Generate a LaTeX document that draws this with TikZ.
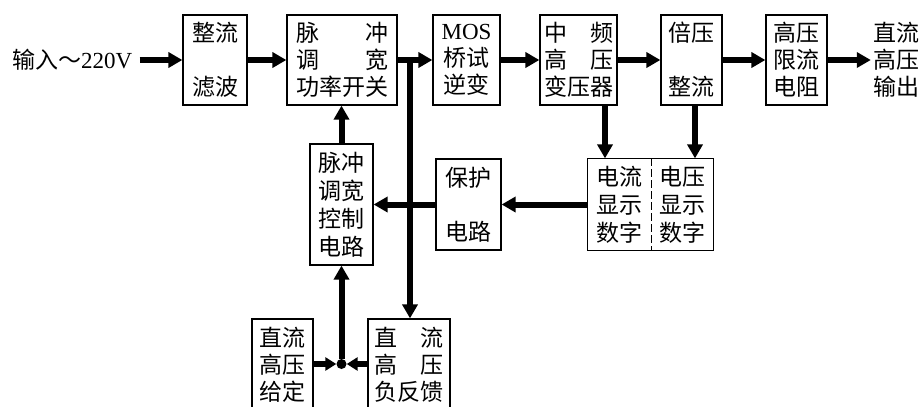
\documentclass[tikz,border=0pt]{standalone}
\usepackage{fontspec}
\setmainfont{Liberation Serif}
\newfontfamily\cjk{Noto Sans CJK SC}
\usetikzlibrary{arrows.meta}
\begin{document}
\begin{tikzpicture}[x=1pt,y=-1pt,
  cjkf/.style={font=\cjk\fontsize{23}{27}\selectfont},
  cjkg/.style={font=\cjk\fontsize{23}{28}\selectfont},
  box/.style={draw,line width=1.2pt,inner sep=0pt,align=center,cjkf},
  arr/.style={line width=6pt,-{Triangle[length=14pt,width=15pt]}},
  sarr/.style={line width=5.5pt,-{Triangle[length=11pt,width=13pt]}}]
\clip (0,0) rectangle (922,407);
% top row
\node[cjkf,inner sep=0pt,anchor=west] (in) at (12,60) {输入～{\rmfamily 220V}};
\node[box,minimum width=64pt,minimum height=90pt,text width=48pt] (zl) at (215,60) {整流\\[27pt]滤波};
\node[box,minimum width=110pt,minimum height=90pt,text width=92pt] (mk) at (342,60)
  {\makebox[\linewidth]{脉\hfill 冲}\\\makebox[\linewidth]{调\hfill 宽}\\功率开关};
\node[box,minimum width=67pt,minimum height=90pt,text width=55pt] (mos) at (466.5,60) {{\rmfamily MOS}\\桥试\\逆变};
\node[box,minimum width=77pt,minimum height=90pt,text width=69pt] (zp) at (578.5,60)
  {\makebox[\linewidth]{中\hfill 频}\\\makebox[\linewidth]{高\hfill 压}\\变压器};
\node[box,minimum width=61pt,minimum height=90pt,text width=48pt] (bz) at (691.5,60) {倍压\\[27pt]整流};
\node[box,minimum width=61pt,minimum height=90pt,text width=48pt] (gx) at (796.5,60) {高压\\限流\\电阻};
\node[cjkf,inner sep=0pt,align=center] (out) at (896,60) {直流\\高压\\输出};
% middle row
\node[box,cjkg,minimum width=63pt,minimum height=121pt,text width=48pt] (kz) at (341.5,204.5) {脉冲\\调宽\\控制\\电路};
\node[box,minimum width=65pt,minimum height=91pt,text width=48pt] (bh) at (468.5,204.5) {保护\\[27pt]电路};
\node[box,cjkg,draw=none,minimum width=63pt,minimum height=91pt,text width=48pt] (xsl) at (619.5,204.5) {电流\\显示\\数字};
\node[box,cjkg,draw=none,minimum width=62pt,minimum height=91pt,text width=48pt] (xsr) at (682,204.5) {电压\\显示\\数字};
\draw[line width=1.2pt] (xsl.north west) rectangle (xsr.south east);
\draw[line width=1pt,dash pattern=on 8pt off 3pt] (xsl.north east) -- (xsl.south east);
% bottom row
\node[box,minimum width=61pt,minimum height=92pt,text width=48pt] (gd) at (282.5,365) {直流\\高压\\给定};
\node[box,minimum width=82pt,minimum height=92pt,text width=69pt] (fk) at (409,365)
  {\makebox[\linewidth]{直\hfill 流}\\\makebox[\linewidth]{高\hfill 压}\\负反馈};
\node[circle,fill,inner sep=0pt,minimum size=10pt] (dot) at (341.5,364) {};
\coordinate (j) at (410,60);
% connectors
\draw[arr,shorten <=7pt] (in.east) -- (zl.west);
\draw[arr] (zl.east) -- (mk.west);
\draw[arr] (mk.east) -- (mos.west);
\draw[arr,line width=6.5pt] (j) -- (j |- fk.north);
\draw[arr] (mos.east) -- (zp.west);
\draw[arr] (zp.east) -- (bz.west);
\draw[arr] (bz.east) -- (gx.west);
\draw[arr,shorten >=2pt] (gx.east) -- (out.west);
\draw[arr] ([xshift=26.5pt]zp.south) -- ([xshift=26.5pt]zp.south |- xsl.north);
\draw[arr] ([xshift=3.5pt]bz.south) -- ([xshift=3.5pt]bz.south |- xsr.north);
\draw[arr] (xsl.west) -- (bh.east);
\draw[arr] (bh.west) -- (kz.east);
\draw[arr] (kz.north) -- (kz.north |- mk.south);
\draw[sarr] (gd.east |- dot) -- (dot);
\draw[sarr] (fk.west |- dot) -- (dot);
\draw[arr] (dot) -- (dot |- kz.south);
\end{tikzpicture}
\end{document}
